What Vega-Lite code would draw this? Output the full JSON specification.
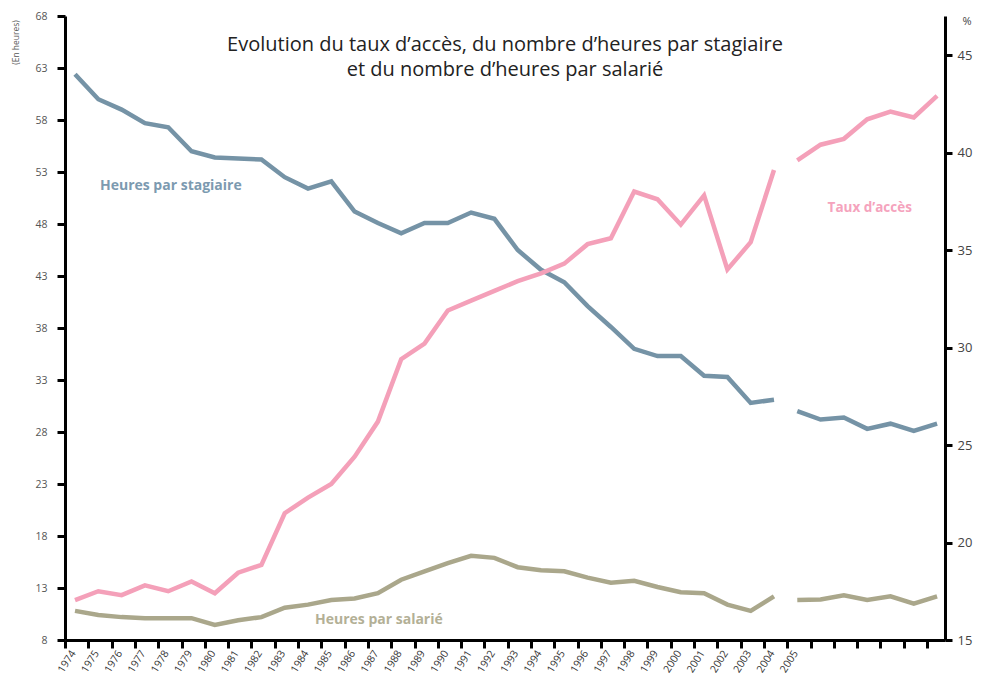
{
  "$schema": "https://vega.github.io/schema/vega-lite/v6.json",
  "autosize": {"type": "none"},
  "width": 880,
  "height": 624,
  "padding": {"left": 65, "top": 16, "right": 40, "bottom": 41},
  "background": "white",
  "config": {
    "view": {"stroke": null},
    "font": "Open Sans",
    "axis": {"labelFont": "Open Sans", "titleFont": "Open Sans", "grid": false, "domainColor": "black", "domainWidth": 3, "tickColor": "black", "tickWidth": 3, "labelColor": "#444", "labelFlush": false, "labelBound": false}
  },
  "title": {
    "text": ["Evolution du taux d’accès, du nombre d’heures par stagiaire", "et du nombre d’heures par salarié"],
    "anchor": "middle",
    "frame": "group",
    "orient": "top",
    "offset": 0,
    "baseline": "top",
    "dy": 69,
    "fontSize": 20,
    "fontWeight": "normal",
    "font": "Open Sans",
    "color": "#222",
    "lineHeight": 25
  },
  "datasets": {
    "series": [
      {"year": 1974, "stag": 62.4, "sal": 10.8, "taux": 17.05, "seg": "a"},
      {"year": 1975, "stag": 60.0, "sal": 10.4, "taux": 17.5, "seg": "a"},
      {"year": 1976, "stag": 59.0, "sal": 10.2, "taux": 17.3, "seg": "a"},
      {"year": 1977, "stag": 57.7, "sal": 10.1, "taux": 17.8, "seg": "a"},
      {"year": 1978, "stag": 57.3, "sal": 10.1, "taux": 17.5, "seg": "a"},
      {"year": 1979, "stag": 55.0, "sal": 10.1, "taux": 18.0, "seg": "a"},
      {"year": 1980, "stag": 54.4, "sal": 9.45, "taux": 17.4, "seg": "a"},
      {"year": 1981, "stag": 54.3, "sal": 9.9, "taux": 18.45, "seg": "a"},
      {"year": 1982, "stag": 54.2, "sal": 10.2, "taux": 18.85, "seg": "a"},
      {"year": 1983, "stag": 52.5, "sal": 11.1, "taux": 21.5, "seg": "a"},
      {"year": 1984, "stag": 51.4, "sal": 11.4, "taux": 22.3, "seg": "a"},
      {"year": 1985, "stag": 52.1, "sal": 11.85, "taux": 23.0, "seg": "a"},
      {"year": 1986, "stag": 49.2, "sal": 12.0, "taux": 24.4, "seg": "a"},
      {"year": 1987, "stag": 48.1, "sal": 12.5, "taux": 26.2, "seg": "a"},
      {"year": 1988, "stag": 47.1, "sal": 13.8, "taux": 29.4, "seg": "a"},
      {"year": 1989, "stag": 48.1, "sal": 14.6, "taux": 30.2, "seg": "a"},
      {"year": 1990, "stag": 48.1, "sal": 15.4, "taux": 31.9, "seg": "a"},
      {"year": 1991, "stag": 49.1, "sal": 16.1, "taux": 32.4, "seg": "a"},
      {"year": 1992, "stag": 48.5, "sal": 15.9, "taux": 32.9, "seg": "a"},
      {"year": 1993, "stag": 45.5, "sal": 15.0, "taux": 33.4, "seg": "a"},
      {"year": 1994, "stag": 43.6, "sal": 14.7, "taux": 33.8, "seg": "a"},
      {"year": 1995, "stag": 42.4, "sal": 14.6, "taux": 34.3, "seg": "a"},
      {"year": 1996, "stag": 40.1, "sal": 14.0, "taux": 35.3, "seg": "a"},
      {"year": 1997, "stag": 38.1, "sal": 13.5, "taux": 35.6, "seg": "a"},
      {"year": 1998, "stag": 36.0, "sal": 13.7, "taux": 38.0, "seg": "a"},
      {"year": 1999, "stag": 35.3, "sal": 13.1, "taux": 37.6, "seg": "a"},
      {"year": 2000, "stag": 35.3, "sal": 12.6, "taux": 36.3, "seg": "a"},
      {"year": 2001, "stag": 33.4, "sal": 12.5, "taux": 37.8, "seg": "a"},
      {"year": 2002, "stag": 33.3, "sal": 11.4, "taux": 34.0, "seg": "a"},
      {"year": 2003, "stag": 30.8, "sal": 10.8, "taux": 35.4, "seg": "a"},
      {"year": 2004, "stag": 31.1, "sal": 12.2, "taux": 39.1, "seg": "a"},
      {"year": 2005, "stag": 30.0, "sal": 11.85, "taux": 39.6, "seg": "b"},
      {"year": 2006, "stag": 29.2, "sal": 11.9, "taux": 40.4, "seg": "b"},
      {"year": 2007, "stag": 29.4, "sal": 12.3, "taux": 40.7, "seg": "b"},
      {"year": 2008, "stag": 28.3, "sal": 11.85, "taux": 41.7, "seg": "b"},
      {"year": 2009, "stag": 28.8, "sal": 12.2, "taux": 42.1, "seg": "b"},
      {"year": 2010, "stag": 28.1, "sal": 11.5, "taux": 41.8, "seg": "b"},
      {"year": 2011, "stag": 28.8, "sal": 12.2, "taux": 42.9, "seg": "b"}
    ]
  },
  "layer": [
    {
      "layer": [
        {
          "data": {"name": "series"},
          "mark": {"type": "line", "color": "#7593a6", "strokeWidth": 4.5, "strokeJoin": "miter"},
          "encoding": {
            "x": {"field": "year", "type": "quantitative", "scale": {"domain": [1973.57, 2011.34], "nice": false, "zero": false},
              "axis": {"orient": "bottom", "title": null, "tickCount": 60, "values": [1974,1975,1976,1977,1978,1979,1980,1981,1982,1983,1984,1985,1986,1987,1988,1989,1990,1991,1992,1993,1994,1995,1996,1997,1998,1999,2000,2001,2002,2003,2004,2005,2006,2007,2008,2009,2010,2011],
                "tickOffset": -10, "labelOffset": 8, "tickSize": 8, "labelAngle": -58, "labelAlign": "right", "labelBaseline": "middle", "labelPadding": 3, "labelFontSize": 10.5, "labelColor": "#333",
                "labelFlush": false,
                "labelExpr": "datum.value <= 2005 && datum.value % 2 == 0 ? format(datum.value, 'd') : ''"}},
            "y": {"field": "stag", "type": "quantitative", "scale": {"domain": [8, 68], "nice": false, "zero": false},
              "axis": {"orient": "left", "values": [8,13,18,23,28,33,38,43,48,53,58,63,68], "tickCount": 30, "tickSize": 8, "labelPadding": 10, "labelFontSize": 10.5, "labelColor": "#555", "labelOverlap": false,
                "title": "(En heures)", "titleAngle": -90, "titleFontSize": 8.5, "titleFontWeight": "normal", "titleColor": "#555", "titleX": -50, "titleY": 26, "titleAlign": "center", "titleBaseline": "middle"}},
            "detail": {"field": "seg"}
          }
        },
        {
          "data": {"name": "series"},
          "mark": {"type": "line", "color": "#aaa78b", "strokeWidth": 4.5, "strokeJoin": "miter"},
          "encoding": {
            "x": {"field": "year", "type": "quantitative"},
            "y": {"field": "sal", "type": "quantitative"},
            "detail": {"field": "seg"}
          }
        },
        {
          "data": {"values": [{"label": "Heures par stagiaire", "lx": 1975.07, "ly": 51.65}]},
          "mark": {"type": "text", "align": "left", "baseline": "middle", "fontSize": 14, "fontWeight": "bold", "color": "#7c9ab0", "font": "Open Sans"},
          "encoding": {"x": {"field": "lx", "type": "quantitative"}, "y": {"field": "ly", "type": "quantitative"}, "text": {"field": "label"}}
        },
        {
          "data": {"values": [{"label": "Heures par salarié", "lx": 1984.3, "ly": 9.9}]},
          "mark": {"type": "text", "align": "left", "baseline": "middle", "fontSize": 14, "fontWeight": "bold", "color": "#b3b096", "font": "Open Sans"},
          "encoding": {"x": {"field": "lx", "type": "quantitative"}, "y": {"field": "ly", "type": "quantitative"}, "text": {"field": "label"}}
        }
      ]
    },
    {
      "layer": [
        {
          "data": {"name": "series"},
          "mark": {"type": "line", "color": "#f4a0b9", "strokeWidth": 4.5, "strokeJoin": "miter"},
          "encoding": {
            "x": {"field": "year", "type": "quantitative",
              "axis": {"orient": "bottom", "title": null, "tickCount": 60, "values": [1975,1977,1979,1981,1983,1985,1987,1989,1991,1993,1995,1997,1999,2001,2003,2005],
                "domain": false, "ticks": false, "tickOffset": -10, "labelOffset": 8, "labelPadding": 11, "labelAngle": -58, "labelAlign": "right", "labelBaseline": "middle", "labelFontSize": 10.5, "labelColor": "#333",
                "labelFlush": false,
                "labelExpr": "format(datum.value, 'd')"}},
            "y": {"field": "taux", "type": "quantitative", "scale": {"domain": [15, 47], "nice": false, "zero": false},
              "axis": {"orient": "right", "values": [15,20,25,30,35,40,45], "tickSize": 7, "labelPadding": 5, "labelFontSize": 13, "labelColor": "#444",
                "title": "%", "titleAngle": 0, "titleFontSize": 11, "titleFontWeight": "normal", "titleColor": "#444", "titleX": 17, "titleY": 5, "titleAlign": "left", "titleBaseline": "middle"}},
            "detail": {"field": "seg"}
          }
        },
        {
          "data": {"values": [{"label": "Taux d’accès", "lx": 2006.3, "ly": 37.15}]},
          "mark": {"type": "text", "align": "left", "baseline": "middle", "fontSize": 13.5, "fontWeight": "bold", "color": "#f5a3bd", "font": "Open Sans"},
          "encoding": {"x": {"field": "lx", "type": "quantitative"}, "y": {"field": "ly", "type": "quantitative"}, "text": {"field": "label"}}
        }
      ]
    }
  ],
  "resolve": {"scale": {"y": "independent"}, "axis": {"x": "independent"}}
}
